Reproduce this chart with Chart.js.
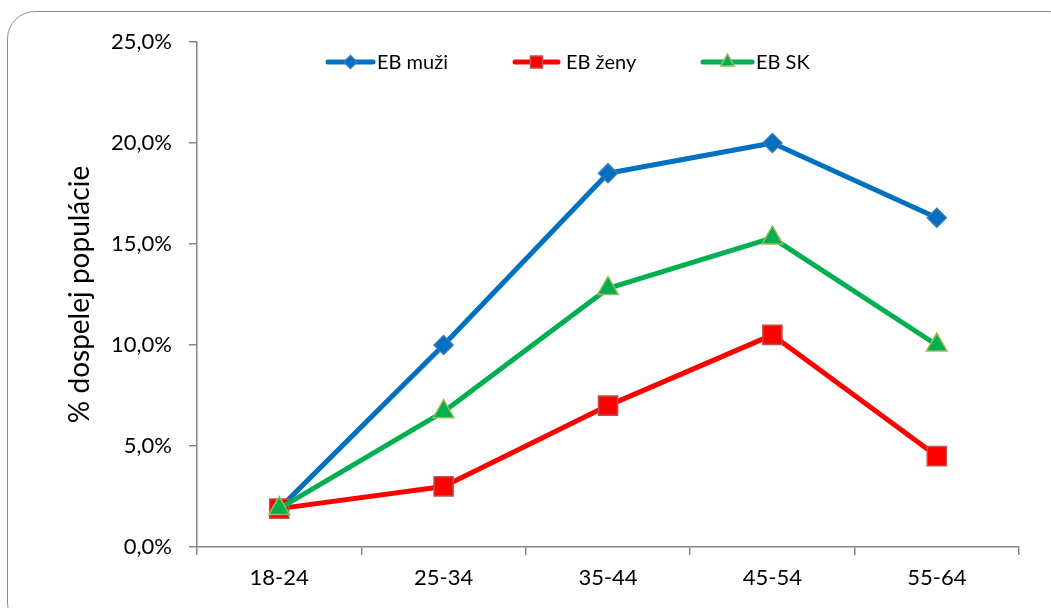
<!DOCTYPE html>
<html lang="sk">
<head>
<meta charset="utf-8">
<title>Ekonomická aktivita podľa veku</title>
<script src="https://cdn.jsdelivr.net/npm/chart.js@4/dist/chart.umd.min.js"></script>
<style>
  html, body { margin: 0; padding: 0; background: #fff; overflow: hidden; }
  #wrap { position: relative; width: 1051px; height: 608px; }
  #frame {
    position: absolute; left: 7px; top: 11px; width: 1070px; height: 620px;
    border: 1.5px solid #8c8c8c; border-radius: 28px; box-sizing: border-box;
    pointer-events: none;
  }
  canvas { position: absolute; left: 0; top: 0; }
</style>
</head>
<body>
<div id="wrap">
  <div id="frame"></div>
  <canvas id="c" width="1051" height="608"></canvas>
</div>
<script>
// Age groups on the x axis
const categories = ['18-24', '25-34', '35-44', '45-54', '55-64'];

// Share of the adult population (%) per age group
const ebMuzi = [1.9, 10.0, 18.5, 20.0, 16.3];
const ebZeny = [1.9, 3.0, 7.0, 10.5, 4.5];
const ebSK   = [1.9, 6.7, 12.8, 15.3, 10.0];

// Y axis tick labels (0 to 25 in steps of 5)
const yTickLabels = ['0,0%', '5,0%', '10,0%', '15,0%', '20,0%', '25,0%'];

const seriesNames = ['EB muži', 'EB ženy', 'EB SK'];

const AXIS = '#868686';
const FONT = 'Lato, "Open Sans", sans-serif';

// Legend sits inside the plot area, in one row near the top
const legendInPlot = {
  id: 'legendInPlot',
  afterDatasetsDraw(chart) {
    const ctx = chart.ctx;
    const items = [
      { lineFrom: 328, lineTo: 373, textX: 377, r: [6.5, 8.5, 8] },
      { lineFrom: 515, lineTo: 558, textX: 566 },
      { lineFrom: 703, lineTo: 752, textX: 756 }
    ];
    const legendR = [6.5, 8.5, 8];
    const y = 62;
    chart.data.datasets.forEach((ds, i) => {
      const it = items[i];
      ctx.save();
      ctx.strokeStyle = ds.borderColor;
      ctx.lineWidth = ds.borderWidth;
      ctx.lineCap = 'round';
      ctx.beginPath();
      ctx.moveTo(it.lineFrom, y);
      ctx.lineTo(it.lineTo, y);
      ctx.stroke();
      ctx.fillStyle = ds.pointBackgroundColor;
      ctx.strokeStyle = ds.pointBorderColor;
      ctx.lineWidth = ds.pointBorderWidth;
      Chart.helpers.drawPoint(ctx, {
        pointStyle: ds.pointStyle, radius: legendR[i], rotation: 0, borderWidth: ds.pointBorderWidth
      }, (it.lineFrom + it.lineTo) / 2, y);
      ctx.fillStyle = '#000';
      ctx.font = '20px ' + FONT;
      ctx.textBaseline = 'middle';
      ctx.textAlign = 'left';
      ctx.fillText(ds.label, it.textX, y + 1);
      ctx.restore();
    });
  }
};

const series = [
  { data: ebMuzi, color: '#0070C0', border: '#3E75BA', style: 'rectRot', r: 9.5, order: 3 },
  { data: ebZeny, color: '#FF0000', border: '#C0504D', style: 'rect', r: 13.5, order: 2 },
  { data: ebSK,   color: '#00B050', border: '#9BBB59', style: 'triangle', r: 12, order: 1 }
];

new Chart(document.getElementById('c'), {
  type: 'line',
  data: {
    labels: categories,
    datasets: series.map((s, i) => ({
      label: seriesNames[i],
      data: s.data,
      borderColor: s.color,
      borderWidth: 5,
      borderCapStyle: 'round',
      borderJoinStyle: 'round',
      pointStyle: s.style,
      pointRadius: s.r,
      pointHoverRadius: s.r,
      pointBackgroundColor: s.color,
      pointBorderColor: s.border,
      pointBorderWidth: 1.5,
      tension: 0,
      fill: false,
      order: s.order
    }))
  },
  options: {
    responsive: false,
    animation: false,
    devicePixelRatio: 1,
    events: [],
    layout: { padding: { left: 0, top: 42, right: 32, bottom: 0 } },
    plugins: {
      legend: { display: false },
      tooltip: { enabled: false }
    },
    scales: {
      x: {
        type: 'category',
        offset: true,
        grid: {
          display: true, offset: true, drawOnChartArea: false, drawTicks: true,
          tickLength: 8, color: AXIS, lineWidth: 1.5
        },
        border: { display: true, color: AXIS, width: 1.5 },
        ticks: { color: '#000', font: { family: FONT, size: 22 }, padding: 10, maxRotation: 0 },
        afterFit(scale) { scale.height = 61; }
      },
      y: {
        min: 0, max: 25,
        grid: {
          display: true, drawOnChartArea: false, drawTicks: true,
          tickLength: 8, color: AXIS, lineWidth: 1.5
        },
        border: { display: true, color: AXIS, width: 1.5 },
        ticks: {
          stepSize: 5, color: '#000', font: { family: FONT, size: 22 }, padding: 17,
          callback: (v, idx) => yTickLabels[idx]
        },
        title: {
          display: true, text: '% dospelej populácie', color: '#000',
          font: { family: FONT, size: 28 }, padding: { top: 63, bottom: 0 }
        },
        afterFit(scale) { scale.width = 197; }
      }
    }
  },
  plugins: [legendInPlot]
});
</script>
</body>
</html>
